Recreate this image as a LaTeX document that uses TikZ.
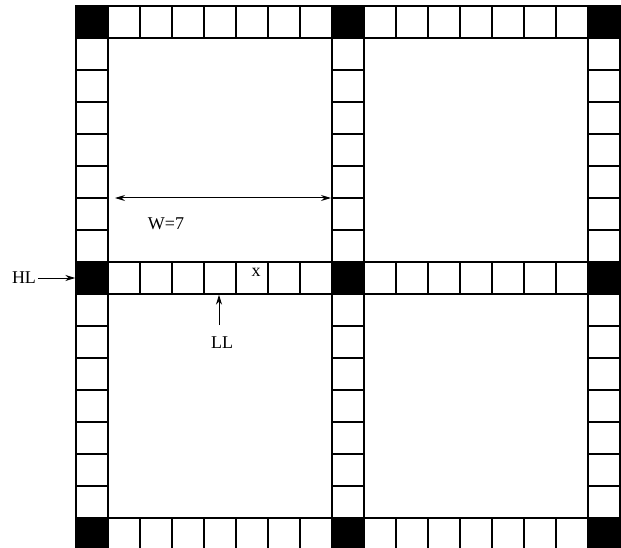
\documentclass[tikz,border=0pt]{standalone}
\usepackage{fontspec}
\setmainfont{Liberation Serif}
\usetikzlibrary{arrows.meta}
\begin{document}
\begin{tikzpicture}[x=1pt,y=-1pt,
  cell/.style={draw=black, line width=1.4pt, minimum size=32pt, inner sep=0pt, fill=white},
  blk/.style={cell, fill=black},
  lbl/.style={font=\fontsize{18}{21}\selectfont, inner sep=1pt},
  arr/.style={line width=1pt, -{Stealth[length=10pt,width=6pt]}},
  darr/.style={line width=1pt, {Stealth[length=10pt,width=6pt]}-{Stealth[length=10pt,width=6pt]}}]
\useasboundingbox (0,0) rectangle (621,548);
% horizontal bands
\foreach \r in {0,8,16}{
  \foreach \b in {0,1}{
    \foreach \k in {1,...,7}{
      \pgfmathtruncatemacro\c{8*\b+\k}
      \node[cell] (c-\c-\r) at ({92+32*\c},{22+32*\r}) {};
    }
  }
}
% vertical bands
\foreach \c in {0,8,16}{
  \foreach \b in {0,1}{
    \foreach \k in {1,...,7}{
      \pgfmathtruncatemacro\r{8*\b+\k}
      \node[cell] (c-\c-\r) at ({92+32*\c},{22+32*\r}) {};
    }
  }
}
% black corners
\foreach \c in {0,8,16}{
  \foreach \r in {0,8,16}{
    \node[blk] (c-\c-\r) at ({92+32*\c},{22+32*\r}) {};
  }
}
% labels
\node[lbl] (xlab) at (256,272) {x};
\node[lbl] (w) at (166,224) {W=7};
\coordinate (wl) at (115,198);
\coordinate (wr) at (331,198);
\draw[darr] (wl) -- (wr);
\node[lbl] (hl) at (24,278) {HL};
\draw[arr] ([xshift=1pt]hl.east) -- (c-0-8.west);
\node[lbl] (ll) at (222,343) {LL};
\coordinate (lltail) at (219,325);
\draw[arr] (lltail) -- (lltail |- c-4-8.south);
\end{tikzpicture}
\end{document}
